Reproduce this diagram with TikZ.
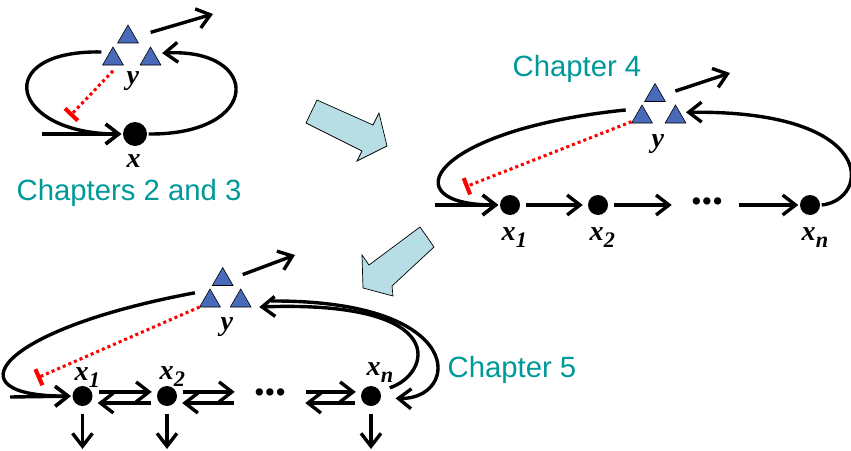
\documentclass[tikz,border=0pt]{standalone}
\usepackage{fontspec}
\setmainfont{Liberation Serif}
\newfontfamily\chapfont{Liberation Sans}
\usepackage{xcolor}
\usepackage{tikz}
\usetikzlibrary{arrows.meta}
\usetikzlibrary{shapes.geometric}
\definecolor{chapteal}{RGB}{0,153,153}
\definecolor{triblue}{RGB}{72,106,184}
\definecolor{bigcyan}{RGB}{183,222,228}
\newcommand*{\xsub}[1]{x\raisebox{-6pt}{\fontsize{19}{19}\selectfont#1}}

\begin{document}
\begin{tikzpicture}[x=0.03cm,y=-0.03cm,line width=2.9pt,
  arr/.style={-{Straight Barb[length=11pt,width=17pt]}},
  chain/.style={arr,shorten <=4pt,shorten >=3pt},
  tri/.style={draw,line width=0.5pt,fill=triblue,regular polygon,regular polygon sides=3,minimum size=0.72cm,inner sep=0pt,outer sep=0pt},
  dot/.style={circle,fill=black,minimum size=0.6cm,inner sep=0pt},
  lab/.style={font=\fontsize{24}{24}\selectfont\bfseries\itshape,inner sep=0pt,anchor=base west},
  chap/.style={font=\fontsize{25}{30}\selectfont\chapfont,text=chapteal,inner sep=0pt,anchor=base},
  dots/.style={font=\fontsize{26}{26}\selectfont,inner xsep=12pt,inner ysep=0pt},
  inhib/.style={red,line width=2.6pt,dash pattern=on 2.6pt off 2.6pt,-{Bar[width=15pt,line width=3.5pt]}},
  bigarrow/.style={draw,line width=0.6pt,fill=bigcyan,line join=miter}]
\useasboundingbox (0,0) rectangle (851,450);

% big arrows
\draw[bigarrow] (317,100) -- (373,125) -- (379,113) -- (387,146) -- (357,161) -- (362,151) -- (306,123) -- cycle;
\draw[bigarrow] (420,227) -- (434,247) -- (392,286) -- (393,296) -- (363,288) -- (362,255) -- (369,265) -- cycle;

% chapters 2 and 3
\node[tri] (yaA) at (128,37) {};
\node[tri] (ybA) at (113,59) {};
\node[tri] (ycA) at (150.5,59) {};
\node[lab] (yA) at (125,84) {y};
\node[dot,minimum size=0.72cm] (xA) at (135,134) {};
\node[lab] (xlA) at (125,167) {x};
\node[chap] (chA) at (129,200) {Chapters 2 and 3};
\coordinate (inA) at (42,134);
\coordinate (outA) at (213,14);
\coordinate (barA) at (70,116);

\draw[arr] (inA) -- (xA);
\draw[arr] ([shift={(-4pt,6pt)}]ybA.west) .. controls (-10,50) and (10,134) .. (xA.west);
\draw[arr] (xA.east) .. controls (262,135) and (262,48) .. ([shift={(4pt,5pt)}]ycA.east);
\draw[arr,shorten <=14pt] (yaA.east) -- (outA);
\draw[inhib] ([yshift=-5pt]ybA.south) -- (barA);

% chapter 4
\node[tri] (yaB) at (655,95.5) {};
\node[tri] (ybB) at (642,117) {};
\node[tri] (ycB) at (675.5,117) {};
\node[lab] (yB) at (650,147) {y};
\node[dot] (x1B) at (510,205) {};
\node[dot] (x2B) at (598,205) {};
\node[dots] (dB) at (707,205) {\textbullet\textbullet\textbullet};
\node[dot] (xnB) at (810,205) {};
\node[lab] (x1lB) at (500,240) {\xsub{1}};
\node[lab] (x2lB) at (588,240) {\xsub{2}};
\node[lab] (xnlB) at (800,240) {\xsub{n}};
\node[chap] (chB) at (577,77) {Chapter 4};
\coordinate (inB) at (435,205);
\coordinate (outB) at (730,73);
\coordinate (barB) at (465,187);

\draw[arr] (inB) -- (x1B);
\draw[arr] ([shift={(-8pt,6pt)}]ybB.west) .. controls (430,130) and (390,205) .. (x1B.west);
\draw[chain] (x1B) -- (x2B);
\draw[chain] (x2B) -- (dB);
\draw[arr] (dB) -- (xnB);
\draw[arr] (xnB.east) .. controls (870,200) and (880,110) .. ([shift={(3pt,4pt)}]ycB.east);
\draw[arr,shorten <=12pt] (yaB.east) -- (outB);
\draw[inhib] ([shift={(-3pt,-4pt)}]ybB.west) -- (barB);

% chapter 5
\node[tri] (yaC) at (222.7,279.5) {};
\node[tri] (ybC) at (210,301) {};
\node[tri] (ycC) at (240.7,301) {};
\node[lab] (yC) at (219,330) {y};
\node[dot] (x1C) at (82.5,396) {};
\node[dot] (x2C) at (167,396) {};
\node[dots] (dC) at (270,396) {\textbullet\textbullet\textbullet};
\node[dot] (xnC) at (371,396) {};
\node[lab] (x1lC) at (73,380) {\xsub{1}};
\node[lab] (x2lC) at (158,379) {\xsub{2}};
\node[lab] (xnlC) at (365,375) {\xsub{n}};
\node[chap] (chC) at (512,377) {Chapter 5};
\coordinate (inC) at (10,397);
\coordinate (outC) at (295,255);
\coordinate (barC) at (37,378);
\coordinate (d1C) at (82.5,449);
\coordinate (d2C) at (167,449);
\coordinate (dnC) at (371,449);

\draw[arr] (inC) -- (x1C);
\draw[arr] ([shift={(-7pt,7pt)}]ybC.west) .. controls (-5,330) and (-50,397) .. (x1C.west);
\draw[chain] ([yshift=3.5pt]x1C.east) -- ([yshift=3.5pt]x2C.west);
\draw[chain] ([yshift=-6pt]x2C.west) -- ([yshift=-6pt]x1C.east);
\draw[chain] ([yshift=3.5pt]x2C.east) -- ([yshift=3.5pt]dC.west);
\draw[chain] ([yshift=-6pt]dC.west) -- ([yshift=-6pt]x2C.east);
\draw[chain] ([yshift=3.5pt]dC.east) -- ([yshift=3.5pt]xnC.west);
\draw[chain] ([yshift=-6pt]xnC.west) -- ([yshift=-6pt]dC.east);
\draw[arr,shorten <=5pt] (x1C) -- (d1C);
\draw[arr,shorten <=5pt] (x2C) -- (d2C);
\draw[arr,shorten <=5pt] (xnC) -- (dnC);
\draw[arr] ([shift={(6pt,7pt)}]xnC.east) .. controls (430,375) and (455,300) .. ([xshift=7pt]ycC.corner 3);
\draw[arr] ([xshift=20pt]ycC.east) .. controls (470,300) and (460,400) .. ([shift={(11pt,-2pt)}]xnC.east);
\draw[arr,shorten <=12pt] (yaC.east) -- (outC);
\draw[inhib] (ybC.corner 2) -- (barC);

\end{tikzpicture}
\end{document}
